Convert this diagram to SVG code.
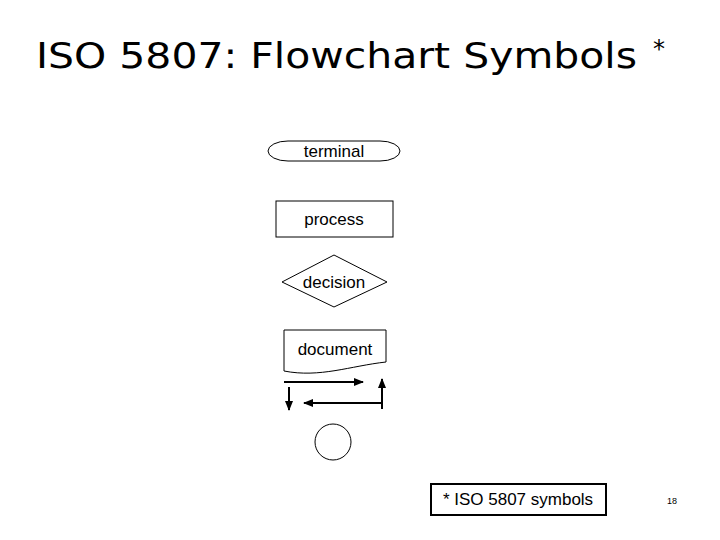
<svg xmlns="http://www.w3.org/2000/svg" width="720" height="540" viewBox="0 0 720 540">
<defs>
<marker id="ah" markerWidth="10" markerHeight="8" refX="9" refY="4" orient="auto" markerUnits="userSpaceOnUse"><path d="M0,0 L10,4 L0,8 Z" fill="#000"/></marker>
</defs>
<style>
.s{fill:#fff;stroke:#000;stroke-width:1}
.t{font-family:"Liberation Sans",Arial,sans-serif;font-size:17px;text-anchor:middle;fill:#000}
.c{stroke:#000;stroke-width:2;fill:none}
</style>
<rect width="720" height="540" fill="#fff"/>
<text x="36" y="68" font-family="DejaVu Sans,sans-serif" font-size="36" textLength="601" lengthAdjust="spacingAndGlyphs" fill="#000">ISO 5807: Flowchart Symbols</text>
<text x="653" y="57" font-family="DejaVu Sans,sans-serif" font-size="24" fill="#000">*</text>
<g id="terminal"><rect class="s" x="268" y="141" width="132" height="20" rx="20" ry="10"/><text class="t" x="334" y="157">terminal</text></g>
<g id="process"><rect class="s" x="276" y="201" width="117" height="36"/><text class="t" x="334" y="225">process</text></g>
<g id="decision"><polygon class="s" points="282,282 334,255 387,282 334,307"/><text class="t" x="334" y="288">decision</text></g>
<g id="document"><path class="s" d="M284,330 H386 V362 C350,366 320,378 284,371 Z"/><text class="t" x="335" y="355">document</text></g>
<g id="connectors">
<line class="c" x1="284" y1="382" x2="363" y2="382" marker-end="url(#ah)"/>
<line class="c" x1="289" y1="387" x2="289" y2="410" marker-end="url(#ah)"/>
<line class="c" x1="381" y1="403" x2="304" y2="403" marker-end="url(#ah)"/>
<line class="c" x1="382" y1="409" x2="382" y2="379" marker-end="url(#ah)"/>
</g>
<g id="connector-circle"><circle class="s" cx="333" cy="442" r="18"/></g>
<g id="note"><rect x="431" y="484" width="175" height="31" fill="#fff" stroke="#000" stroke-width="2"/><text class="t" x="518" y="505">* ISO 5807 symbols</text></g>
<text x="672" y="504" font-family="Liberation Sans,Arial,sans-serif" font-size="9" text-anchor="middle">18</text>
</svg>
